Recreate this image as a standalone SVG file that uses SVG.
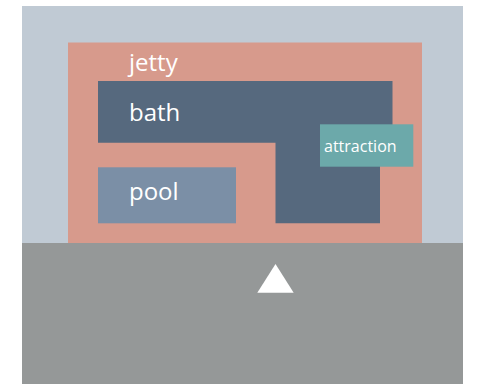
<svg xmlns="http://www.w3.org/2000/svg" width="480" height="384" viewBox="0 0 480 384">
<style>
.lbl{font-family:"Open Sans","Noto Sans",sans-serif;fill:#ffffff}
.big{font-size:24px}
.small{font-size:16px}
</style>
<rect x="0" y="0" width="480" height="384" fill="#ffffff"/>
<g id="site">
<rect x="22" y="6" width="441" height="237" fill="#c0cad4"/>
</g>
<g id="ground">
<rect x="22" y="243" width="441" height="141" fill="#959898"/>
</g>
<g id="jetty">
<rect x="68" y="42.5" width="354" height="200.5" fill="#d79a8c"/>
<text class="lbl big" x="129" y="71">jetty</text>
</g>
<g id="bath">
<path d="M98 81 H392.5 V142.7 H380 V223.3 H275.5 V142.7 H98 Z" fill="#56697e"/>
<text class="lbl big" x="129" y="121">bath</text>
</g>
<g id="pool">
<rect x="98" y="167.3" width="138" height="56" fill="#7b8fa6"/>
<text class="lbl big" x="129" y="200">pool</text>
</g>
<g id="attraction">
<rect x="320" y="124.3" width="93.3" height="42.4" fill="#6ca9aa"/>
<text class="lbl small" x="324" y="152">attraction</text>
</g>
<g id="entrance">
<polygon points="275.5,264 257.3,292.7 293.7,292.7" fill="#ffffff"/>
</g>
<g id="connectors"/>
</svg>
